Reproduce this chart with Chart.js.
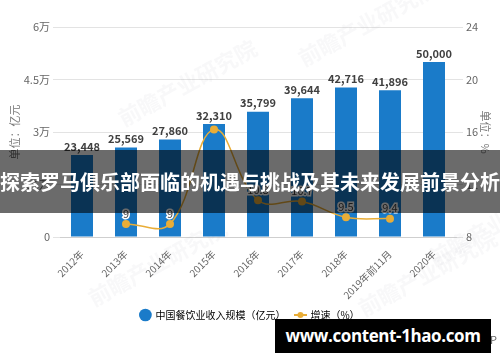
<!DOCTYPE html>
<html>
<head>
<meta charset="utf-8">
<script src="https://cdn.jsdelivr.net/npm/chart.js@4/dist/chart.umd.min.js"></script>
<style>
  body { margin: 0; background: #fff; }
  #wrap { position: relative; width: 500px; height: 362px; overflow: hidden; }
  #banner {
    position: absolute; left: 0; top: 150px; width: 500px; height: 63px;
    background: rgba(0, 0, 0, 0.58); color: #fff;
    font: bold 20px "Noto Sans CJK SC", sans-serif; line-height: 63px;
    text-align: center; white-space: nowrap;
  }
  #source {
    position: absolute; right: 3px; top: 331px; color: #666;
    font: 11px "Noto Sans CJK SC", sans-serif;
  }
  #mark {
    position: absolute; left: 275px; top: 319px; width: 216px; height: 34px;
    background: #000; color: #fff; font: bold 17px "Open Sans", sans-serif;
    letter-spacing: -0.4px; line-height: 34px; text-align: center; white-space: nowrap;
  }
</style>
</head>
<body>
<div id="wrap">
  <canvas id="chart" width="500" height="362"></canvas>
  <div id="source">前瞻经济学人APP</div>
  <div id="banner">探索罗马俱乐部面临的机遇与挑战及其未来发展前景分析</div>
  <div id="mark">www.content-1hao.com</div>
</div>
<script>
// data
var years = ['2012年', '2013年', '2014年', '2015年', '2016年', '2017年', '2018年', '2019年前11月', '2020年'];
var revenue = [23448, 25569, 27860, 32310, 35799, 39644, 42716, 41896, 50000];
var growth = [null, 9.0, 9.0, 16.2, 10.8, 10.7, 9.5, 9.4, null];
var growthLabels = ['', '9', '9', '', '10.8', '10.7', '9.5', '9.4', ''];
var leftTicks = ['0', '1.5万', '3万', '4.5万', '6万'];

var blue = '#1a7bc9';
var gold = '#e9ad37';
var font = '"Noto Sans CJK SC", "Noto Sans", sans-serif';

// little line+dot marker for the legend
var lineMark = document.createElement('canvas');
lineMark.width = 13; lineMark.height = 8;
var lm = lineMark.getContext('2d');
lm.strokeStyle = gold; lm.lineWidth = 2;
lm.beginPath(); lm.moveTo(0, 4); lm.lineTo(13, 4); lm.stroke();
lm.fillStyle = gold;
lm.beginPath(); lm.arc(6.5, 4, 3, 0, Math.PI * 2); lm.fill();

// faint "前瞻产业研究院" stamps behind the plot
var stamps = {
  id: 'stamps',
  beforeDatasetsDraw: function (chart) {
    var ctx = chart.ctx;
    ctx.save();
    ctx.fillStyle = 'rgba(150, 160, 175, 0.07)';
    ctx.font = 'bold 22px ' + font;
    [[120, 120], [300, 60], [430, 260], [90, 300], [360, 310]].forEach(function (p) {
      ctx.save();
      ctx.translate(p[0], p[1]);
      ctx.rotate(-0.5);
      ctx.fillText('前瞻产业研究院', 0, 0);
      ctx.restore();
    });
    ctx.restore();
  }
};

var valueLabels = {
  id: 'valueLabels',
  afterDatasetsDraw: function (chart) {
    var ctx = chart.ctx;
    ctx.save();
    ctx.textAlign = 'center';
    ctx.textBaseline = 'bottom';
    ctx.font = 'bold 11px ' + font;
    ctx.fillStyle = '#404040';
    chart.getDatasetMeta(0).data.forEach(function (bar, i) {
      ctx.fillText(revenue[i].toLocaleString('en-US'), bar.x, bar.y - 3);
    });
    ctx.font = '11px ' + font;
    ctx.lineWidth = 3;
    ctx.strokeStyle = '#fff';
    chart.getDatasetMeta(1).data.forEach(function (pt, i) {
      if (!growthLabels[i]) return;
      ctx.strokeText(growthLabels[i], pt.x, pt.y - 5);
      ctx.fillText(growthLabels[i], pt.x, pt.y - 5);
    });
    ctx.restore();
  }
};

var ctx = document.getElementById('chart').getContext('2d');
var myChart = new Chart(ctx, {
  type: 'bar',
  data: {
    labels: years,
    datasets: [{
      label: '中国餐饮业收入规模（亿元）',
      data: revenue,
      backgroundColor: blue,
      barPercentage: 0.5,
      categoryPercentage: 1,
      yAxisID: 'y',
      order: 1
    }, {
      type: 'line',
      label: '增速（%）',
      data: growth,
      borderColor: gold,
      backgroundColor: gold,
      borderWidth: 1.5,
      pointRadius: 4,
      pointBorderWidth: 0,
      tension: 0.4,
      yAxisID: 'y1',
      order: 0
    }]
  },
  options: {
    responsive: false,
    animation: false,
    layout: { padding: { left: 4, right: 4, top: 27, bottom: 32 } },
    plugins: {
      tooltip: { enabled: false },
      legend: {
        position: 'bottom',
        labels: {
          usePointStyle: true,
          boxHeight: 9,
          padding: 10,
          color: '#333',
          font: { size: 10, family: font },
          generateLabels: function (chart) {
            return [
              { text: '中国餐饮业收入规模（亿元）', fillStyle: blue, strokeStyle: blue, lineWidth: 0, pointStyle: 'circle', datasetIndex: 0, hidden: false },
              { text: '增速（%）', fillStyle: gold, strokeStyle: gold, lineWidth: 0, pointStyle: lineMark, datasetIndex: 1, hidden: false }
            ];
          }
        }
      }
    },
    scales: {
      x: {
        grid: { display: false },
        border: { color: '#cfcfcf' },
        ticks: { minRotation: 45, maxRotation: 45, color: '#666', font: { size: 10, family: font } },
        afterFit: function (s) { s.height = 63; }
      },
      y: {
        position: 'left',
        min: 0,
        max: 60000,
        ticks: {
          stepSize: 15000,
          color: '#666',
          font: { size: 11, family: font },
          callback: function (v, i) { return leftTicks[i]; }
        },
        grid: { color: '#e3e3e3', tickLength: 7 },
        border: { display: false },
        title: { display: true, text: '单位：亿元', color: '#777', font: { size: 11, family: font } },
        afterFit: function (s) { s.width = 56; }
      },
      y1: {
        position: 'right',
        min: 8,
        max: 24,
        ticks: { stepSize: 4, color: '#666', font: { size: 11, family: font } },
        grid: { drawOnChartArea: false, color: '#e3e3e3', tickLength: 7 },
        border: { display: false },
        title: { display: true, text: '单位：%', color: '#777', font: { size: 11, family: font } },
        afterFit: function (s) { s.width = 40; }
      }
    }
  },
  plugins: [stamps, valueLabels]
});
</script>
</body>
</html>
